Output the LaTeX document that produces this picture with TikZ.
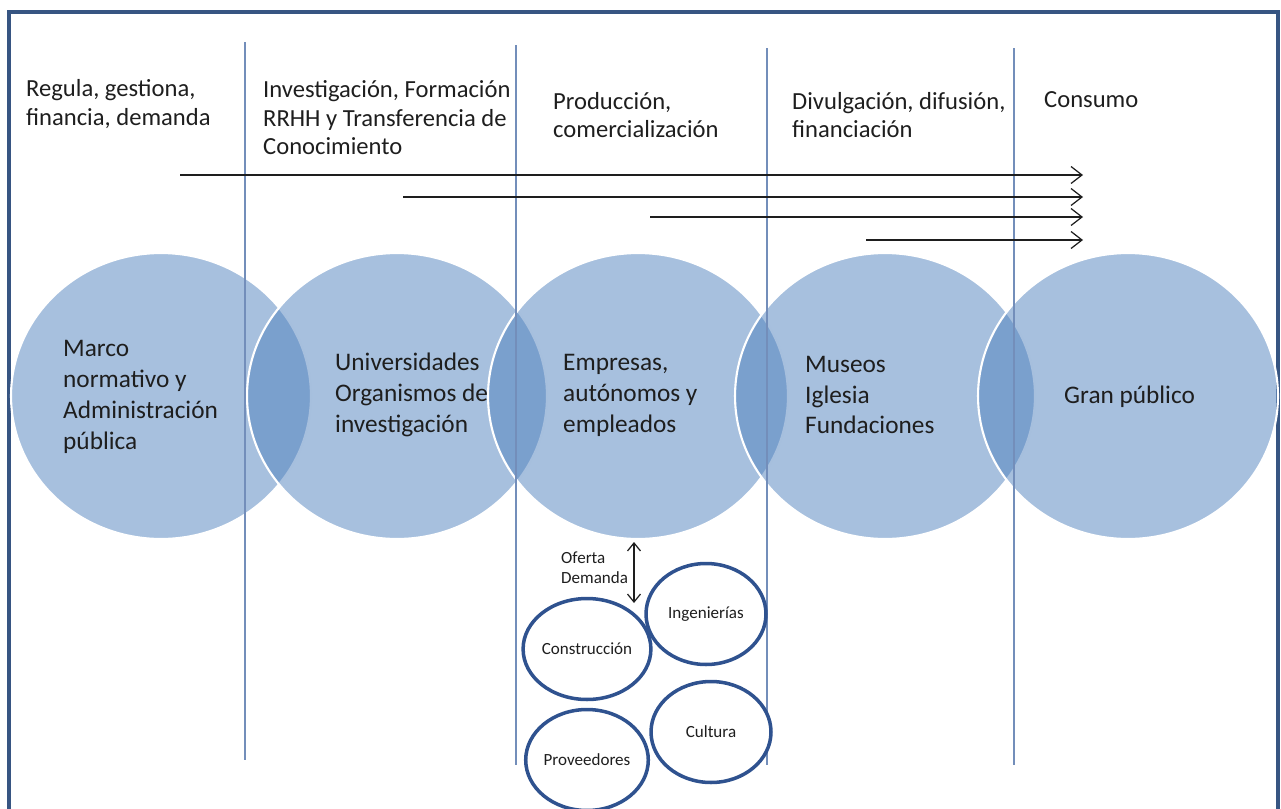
\documentclass[tikz,border=0pt]{standalone}
\usepackage{fontspec}
\setmainfont{Carlito}
\usetikzlibrary{shapes.geometric,arrows.meta}

\definecolor{bubbleblue}{RGB}{79,129,189}
\definecolor{frameblue}{RGB}{55,85,130}
\definecolor{ringblue}{RGB}{47,82,143}
\definecolor{divblue}{RGB}{115,142,186}
\definecolor{inkgrey}{RGB}{30,30,30}

\tikzset{
  bubble/.style={ellipse,minimum width=6cm,minimum height=5.72cm,
    fill=bubbleblue,fill opacity=0.5,draw=white,line width=1.2pt},
  bubbletext/.style={anchor=west,align=left,text=inkgrey,
    font=\fontsize{14.4}{17.6}\selectfont},
  headtext/.style={anchor=west,align=left,text=inkgrey,
    font=\fontsize{14}{16.2}\selectfont},
  smallring/.style={ellipse,draw=ringblue,line width=2pt,fill=white,
    minimum width=2.4cm,minimum height=2.02cm,inner sep=0pt,text=inkgrey,
    font=\fontsize{9.7}{11.5}\selectfont},
  divider/.style={divblue,line width=0.9pt},
  flow/.style={inkgrey,line width=0.7pt,-{Straight Barb[length=2.2mm,width=3.4mm]}},
}

\begin{document}
\begin{tikzpicture}[x=0.02cm,y=-0.02cm]
  \useasboundingbox (0,0) rectangle (1281,808);

  % Frame, open at the bottom
  \draw[frameblue,line width=2.2pt] (9,820) -- (9,12) -- (1278,12) -- (1278,820);

  % Actors
  \node[bubble] (marco)    at (161,396)  {};
  \node[bubble] (univ)     at (397,396)  {};
  \node[bubble] (empresas) at (638,396)  {};
  \node[bubble] (museos)   at (885,396)  {};
  \node[bubble] (publico)  at (1128,396) {};

  % Column dividers
  \draw[divider] (245,42) -- (245,760);
  \draw[divider] (516,45) -- (516,765);
  \draw[divider] (767,48) -- (767,765);
  \draw[divider] (1014,48) -- (1014,765);

  % Column headings
  \node[headtext] (regula)  at (20,104)   {Regula, gestiona,\\financia, demanda};
  \node[headtext] (invest)  at (257,118)  {Investigación, Formación\\RRHH y Transferencia de\\Conocimiento};
  \node[headtext] (produc)  at (547,115)  {Producción,\\comercialización};
  \node[headtext] (divulg)  at (786,115)  {Divulgación, difusión,\\financiación};
  \node[headtext] (consumo) at (1038,100) {Consumo};

  % Actor names
  \node[bubbletext] (marcotxt)    at (57,397)   {Marco\\normativo y\\Administración\\pública};
  \node[bubbletext] (univtxt)     at (329,395)  {Universidades\\Organismos de\\investigación};
  \node[bubbletext] (empresastxt) at (557,395)  {Empresas,\\autónomos y\\empleados};
  \node[bubbletext] (museostxt)   at (799,395)  {Museos\\Iglesia\\Fundaciones};
  \node[bubbletext] (publicotxt)  at (1058,397) {Gran público};

  % Flows towards consumption
  \coordinate (f1s) at (180,175);  \coordinate (f1e) at (1083,175);
  \coordinate (f2s) at (403,197);  \coordinate (f2e) at (1083,197);
  \coordinate (f3s) at (650,217);  \coordinate (f3e) at (1083,217);
  \coordinate (f4s) at (866,240);  \coordinate (f4e) at (1083,240);
  \draw[flow] (f1s) -- (f1e);
  \draw[flow] (f2s) -- (f2e);
  \draw[flow] (f3s) -- (f3e);
  \draw[flow] (f4s) -- (f4e);

  % Sectors below the companies
  \node[smallring] (constr)  at (587,649) {Construcción};
  \node[smallring] (ingen)   at (706,614) {Ingenierías};
  \node[smallring] (cultura) at (711,732) {Cultura};
  \node[smallring] (proveed) at (587,760) {Proveedores};

  % Supply and demand
  \coordinate (odtop) at (634,542);
  \coordinate (odbot) at (634,603);
  \draw[inkgrey,line width=0.7pt,{Straight Barb[length=1.6mm,width=2.6mm]}-{Straight Barb[length=1.6mm,width=2.6mm]}] (odtop) -- (odbot);
  \node[anchor=west,align=left,text=inkgrey,font=\fontsize{9.7}{11.5}\selectfont] (oferta) at (555,568) {Oferta\\Demanda};

\end{tikzpicture}
\end{document}
